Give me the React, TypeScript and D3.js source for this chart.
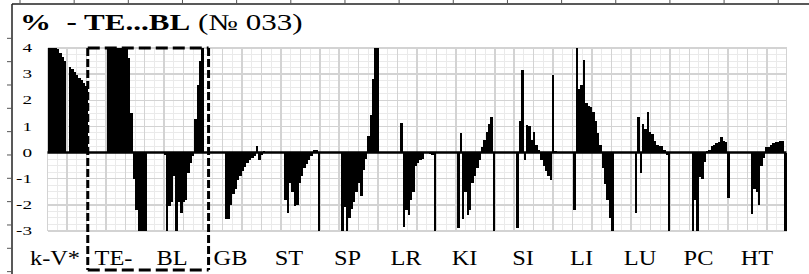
import React from 'react';
import * as d3 from 'd3';

// meridian groups shown along the bottom
const categories = ['k-V*', 'TE-', 'BL', 'GB', 'ST', 'SP', 'LR', 'KI', 'SI', 'LI', 'LU', 'PC', 'HT'];
const yTicks = [4, 3, 2, 1, 0, -1, -2, -3];

// % deviation per measurement, 24 readings per group (clipped to -3..4 on the chart)
const kV = [4, 4, 4, 4, 3.95, 3.8, 3.65, 3.5, 0, 3.28, 3.18, 3.08, 2.98, 2.87, 2.77, 2.66, 2.55, 0, 0, 0, 0, 0, 0, 0];
const TE = [0, 4, 4, 4, 4, 4, 4, 4, 4, 4, 3.6, 1.5, -1.0, -2.2, -3, -3, -3, -3, 0, 0, 0, 0, 0, 0];
const BL = [0, -0.1, -3, -2.05, -1.9, -0.9, -3, -1.9, -2.3, -1.9, -1.8, -0.8, -0.4, -0.15, 1.3, 2.6, 3.5, 4, 0, 0, 0, 0, 0, 0];
const GB = [0, 0, 0, -2.55, -2.55, -2.0, -1.6, -1.4, -1.05, -0.9, -0.7, -0.55, -0.4, -0.3, -0.2, -0.15, 0.25, -0.3, -0.1, 0.05, 0, 0, 0, 0];
const ST = [0, 0, 0, 0, -1.8, -2.3, -1.15, -1.5, -2.05, -2.0, -1.15, -0.9, -0.6, -0.45, -0.3, -0.15, 0.1, 0.08, -3, 0, 0, 0, 0, 0];
const SP = [0, 0, 0, 0, -3, -2.1, -3, -2.5, -2.15, -1.9, -1.5, -1.15, -1.65, -0.65, -0.25, 0.65, 1.45, 2.8, 4, 4, 0, 0, 0, 0];
const LR = [0, 0, 0, 0, 0, 1.15, -2.85, -2.2, -2.4, -1.8, -1.5, -0.5, -0.4, -0.3, -0.25, 0, 0, -0.05, -0.1, -3, 0, 0, 0, 0];
const KI = [0, 0, 0, 0, 0, -2.9, 0.75, -2.55, -1.5, -2.4, -2.2, -1.15, -0.9, -0.6, -0.3, 0.2, 0.5, 0.8, 1.1, 1.35, -3, 0, 0, 0];
const SI = [0, 0, 0, 0, 0, 0, -2.9, 1.2, 3.15, -0.3, 1.07, 1.0, 0.5, 0.8, 0.3, 0.1, -0.3, -0.5, -0.7, -0.9, -1.05, 2.95, 0.05, 0];
const LI = [0, 0, 0, 0, 0, 0, -2.2, 4, 2.45, 2.6, 3.55, 1.9, 1.8, 1.75, 1.55, 1.2, 0.75, 0.3, -0.6, -1.2, -1.8, -2.5, -3, 0];
const LU = [0, 0, 0, 0, 0, 0, 0, 0, -2.3, 1.35, -0.8, 1.1, 0.9, 1.55, 0.8, 0.7, 0.45, 0.3, 0.25, 0.25, 0.1, -0.1, -3, 0];
const PC = [0, 0, 0, 0, 0, 0, 0, 0, -3, -1.8, -3, -0.95, -1.0, -0.35, 0.05, 0.1, 0.25, 0.3, 0.35, 0.4, 0.6, 0.45, 0.4, -1.75];
const HT = [0, 0, 0, 0, 0, 0, 0, 0, 0, -2.35, -1.4, -1.5, -2.0, -0.5, -0.2, 0.2, 0.2, 0.3, 0.35, 0.4, 0.4, 0.45, 0.45, -3];

const series = [kV, TE, BL, GB, ST, SP, LR, KI, SI, LI, LU, PC, HT];

export default function App() {
  const width = 809;
  const height = 274;
  const plot = { left: 47.5, right: 786.5, top: 48, bottom: 231 };

  const values = series.flat();
  const perGroup = kV.length;

  const x = d3.scaleBand<number>()
    .domain(d3.range(values.length))
    .range([plot.left, plot.right])
    .paddingInner(0);

  const y = d3.scaleLinear()
    .domain([-3, 4])
    .range([plot.bottom, plot.top]);

  const labelX = d3.scalePoint<string>()
    .domain(categories)
    .range([55, 757]);

  // grid: 38 major columns, halves as minor; quarter units horizontally
  const gx = d3.scaleLinear().domain([0, 38]).range([plot.left, plot.right]);
  const minorV = d3.range(0, 38.01, 0.5).filter(d => d % 1 !== 0);
  const majorV = d3.range(0, 39);
  const minorH = d3.range(-3, 4.01, 0.25).filter(d => d % 1 !== 0);

  const clamp = (v: number) => Math.max(-3, Math.min(4, v));
  const y0 = y(0);

  // dashed frame around TE-..BL
  const boxLeft = x(17)!;
  const boxRight = x(perGroup * 2 + 20)!;
  const boxTop = y(4);
  const boxBottom = 270;

  const topTicks = d3.range(0, 15).map(i => 20 + i * 54.16);
  const leftTicks = d3.range(1, 12).map(i => 15 + i * 23.33);

  const serif = "'Liberation Serif', 'Times New Roman', serif";

  return (
    <svg
      width={width}
      height={height}
      viewBox={`0 0 ${width} ${height}`}
      style={{ position: 'absolute', left: 0, top: 0, background: '#fff' }}
    >
      <rect x={0} y={0} width={width} height={height} fill="#fff" />

      {/* outer frame remnants */}
      <line x1={12} x2={width} y1={4} y2={4} stroke="#222" strokeWidth={1.5} />
      <line x1={12} x2={12} y1={4} y2={height} stroke="#222" strokeWidth={1.5} />
      {topTicks.map((t, i) => (
        <line key={'tt' + i} x1={t} x2={t} y1={0} y2={4} stroke="#555" strokeWidth={1} />
      ))}
      {leftTicks.map((t, i) => (
        <line key={'lt' + i} x1={7} x2={12} y1={t} y2={t} stroke="#555" strokeWidth={1} />
      ))}

      {/* title */}
      <text
        transform="translate(20,30) scale(1.35,1)"
        fontFamily={serif}
        fontSize={23}
        fill="#000"
        xmlSpace="preserve"
        style={{ whiteSpace: 'pre' }}
      >
        <tspan fontWeight="bold">{'%  - TE...BL'}</tspan>
        <tspan>{' (№ 033)'}</tspan>
      </text>

      {/* grid */}
      <g shapeRendering="crispEdges">
        {minorH.map(v => (
          <line key={'mh' + v} x1={plot.left} x2={plot.right} y1={y(v)} y2={y(v)} stroke="#eaeaea" strokeWidth={1} />
        ))}
        {minorV.map(v => (
          <line key={'mv' + v} x1={gx(v)} x2={gx(v)} y1={plot.top} y2={plot.bottom} stroke="#eaeaea" strokeWidth={1} />
        ))}
        {yTicks.map(v => (
          <line key={'h' + v} x1={plot.left} x2={plot.right} y1={y(v)} y2={y(v)} stroke="#d3d3d3" strokeWidth={1.5} />
        ))}
        {majorV.map(v => (
          <line key={'v' + v} x1={gx(v)} x2={gx(v)} y1={plot.top} y2={plot.bottom} stroke="#d3d3d3" strokeWidth={1.5} />
        ))}
      </g>

      {/* bars */}
      <g shapeRendering="crispEdges">
        {values.map((v, i) => {
          if (v === 0) return null;
          const c = clamp(v);
          return (
            <rect
              key={'b' + i}
              x={x(i)}
              y={Math.min(y(c), y0)}
              width={x.bandwidth()}
              height={Math.abs(y(c) - y0)}
              fill="#000"
            />
          );
        })}
      </g>

      {/* zero line */}
      <line x1={plot.left} x2={plot.right} y1={y0} y2={y0} stroke="#000" strokeWidth={2.5} />

      {/* y labels */}
      {yTicks.map(v => (
        <text
          key={'yl' + v}
          transform={`translate(32,${y(v)}) scale(1.6,1)`}
          textAnchor="end"
          dy="0.35em"
          fontFamily={serif}
          fontSize={12}
          fill="#000"
        >
          {v}
        </text>
      ))}

      {/* category labels */}
      {categories.map(c => (
        <text
          key={'c' + c}
          transform={`translate(${labelX(c)},265) scale(1.22,1)`}
          textAnchor="middle"
          fontFamily={serif}
          fontSize={20}
          fill="#000"
        >
          {c}
        </text>
      ))}

      {/* dashed frame */}
      <g stroke="#000" strokeWidth={3} fill="none">
        <line x1={boxLeft} x2={boxRight} y1={boxTop} y2={boxTop} strokeDasharray="12,5" />
        <line x1={boxLeft} x2={boxRight} y1={boxBottom} y2={boxBottom} strokeDasharray="12,5" />
        <line x1={boxLeft} x2={boxLeft} y1={boxTop} y2={boxBottom} strokeDasharray="8,3" />
        <line x1={boxRight} x2={boxRight} y1={boxTop} y2={boxBottom} strokeDasharray="8,3" />
      </g>
    </svg>
  );
}
